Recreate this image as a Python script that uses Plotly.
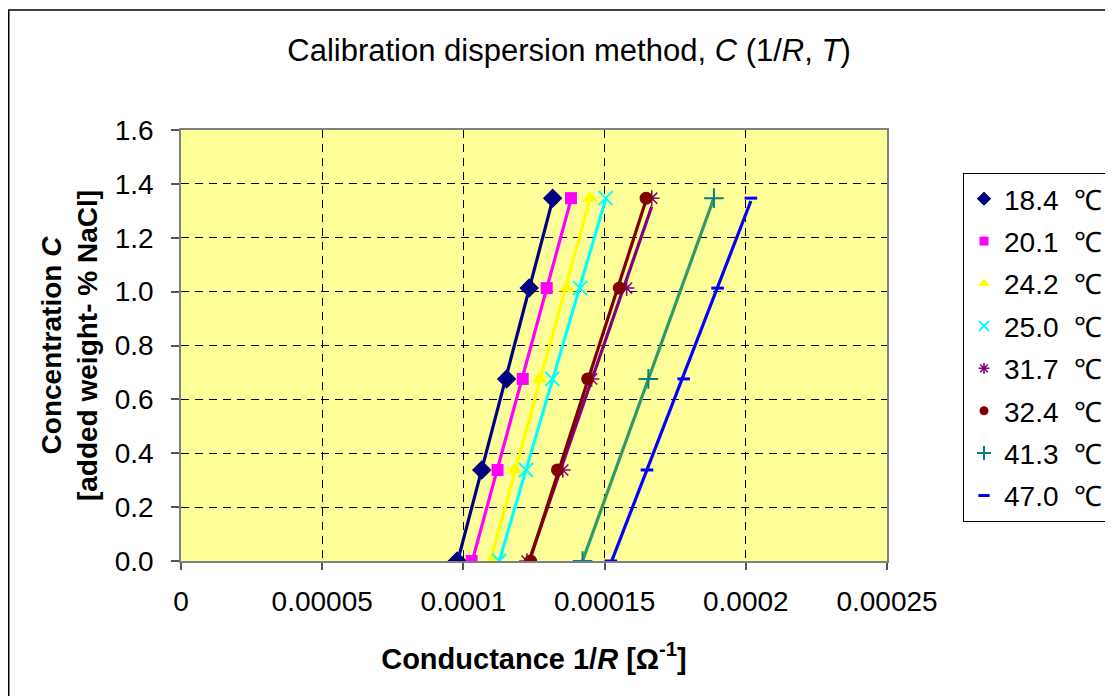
import numpy as np
import plotly.graph_objects as go

# ---- data ----
C_LEVELS = [0.0, 0.338, 0.676, 1.013, 1.347]          # concentration [wt-% NaCl]
C_LEVELS_413 = [0.0, 0.676, 1.347]                      # 41.3 °C has three points

X_184 = [0.978e-4, 1.065e-4, 1.153e-4, 1.233e-4, 1.316e-4]
X_201 = [1.029e-4, 1.121e-4, 1.210e-4, 1.295e-4, 1.381e-4]
X_242 = [1.100e-4, 1.179e-4, 1.269e-4, 1.366e-4, 1.448e-4]
X_250 = [1.127e-4, 1.222e-4, 1.315e-4, 1.413e-4, 1.504e-4]
X_317 = [1.225e-4, 1.352e-4, 1.454e-4, 1.578e-4, 1.667e-4]
X_324 = [1.238e-4, 1.333e-4, 1.440e-4, 1.552e-4, 1.647e-4]
X_413 = [1.422e-4, 1.655e-4, 1.887e-4]
X_470 = [1.522e-4, 1.650e-4, 1.780e-4, 1.900e-4, 2.018e-4]

SERIES_NAMES = ["18.4", "20.1", "24.2", "25.0", "31.7", "32.4", "41.3", "47.0"]

X_TICKVALS = [0, 0.00005, 0.0001, 0.00015, 0.0002, 0.00025]
X_TICKTEXT = ["0", "0.00005", "0.0001", "0.00015", "0.0002", "0.00025"]
Y_TICKVALS = [0.0, 0.2, 0.4, 0.6, 0.8, 1.0, 1.2, 1.4, 1.6]

# ---- styles ----
series = [
    (SERIES_NAMES[0], X_184, C_LEVELS, dict(symbol="diamond", size=15, color="#000080"), "#000080"),
    (SERIES_NAMES[1], X_201, C_LEVELS, dict(symbol="square", size=12, color="#FF00FF"), "#FF00FF"),
    (SERIES_NAMES[2], X_242, C_LEVELS, dict(symbol="triangle-up", size=14, color="#FFFF00"), "#FFFF00"),
    (SERIES_NAMES[3], X_250, C_LEVELS, dict(symbol="x-thin-open", size=14, color="#00FFFF",
                                            line=dict(width=2, color="#00FFFF")), "#00FFFF"),
    (SERIES_NAMES[4], X_317, C_LEVELS, dict(symbol="asterisk-open", size=13, color="#800080",
                                            line=dict(width=1.5, color="#800080")), "#800080"),
    (SERIES_NAMES[5], X_324, C_LEVELS, dict(symbol="circle", size=13, color="#800000"), "#800000"),
    (SERIES_NAMES[6], X_413, C_LEVELS_413, dict(symbol="cross-thin-open", size=14, color="#008080",
                                                line=dict(width=2, color="#008080")), "#339966"),
    (SERIES_NAMES[7], X_470, C_LEVELS, dict(symbol="line-ew-open", size=9, color="#0000FF",
                                            line=dict(width=3, color="#0000FF")), "#0000FF"),
]

FONT = "Liberation Sans, Arial, sans-serif"

# page body has an 8 px default margin; layout is expressed in reference pixels
OFF = 8
W, H = 1113 - OFF, 696 - OFF
PL, PR, PT, PB = 181 - OFF, 887 - OFF, 130 - OFF, 561 - OFF   # plot area in figure px
PW, PH = PR - PL, PB - PT

def px_x(x):  # reference px -> paper x
    return (x - OFF - PL) / PW

def px_y(y):  # reference px -> paper y
    return (PB - (y - OFF)) / PH

fig = go.Figure()

# linear trendlines (fit of C on 1/R, drawn over the data's x-range)
for name, xs, ys, mk, lc in series:
    a, b = np.polyfit(np.array(xs), np.array(ys), 1)
    x_ends = [min(xs), max(xs)]
    fig.add_trace(go.Scatter(
        x=x_ends, y=[a * x_ends[0] + b, a * x_ends[1] + b],
        mode="lines", line=dict(color=lc, width=3.2),
        showlegend=False, hoverinfo="skip"))

# data markers
for i, (name, xs, ys, mk, lc) in enumerate(series):
    fig.add_trace(go.Scatter(
        x=xs, y=ys, mode="markers", marker=mk, showlegend=False,
        legendgroup="g%d" % i, hoverinfo="x+y"))

# legend entries (smaller symbols, as in the reference legend)
for i, (name, xs, ys, mk, lc) in enumerate(series):
    lm = dict(mk)
    lm["size"] = max(8, int(mk["size"] * 0.75))
    fig.add_trace(go.Scatter(
        x=[None], y=[None], mode="markers", marker=lm,
        name=name + "\u00a0\u00a0℃\u00a0\u00a0", legendgroup="g%d" % i, showlegend=True))

grid = dict(showgrid=True, gridcolor="#000000", gridwidth=1.2, griddash="8px,6px")

fig.update_layout(
    width=W, height=H,
    margin=dict(l=PL, r=W - PR, t=PT, b=H - PB, autoexpand=False),
    paper_bgcolor="white", plot_bgcolor="#FFFF99",
    font=dict(family=FONT, size=28, color="black"),
    title=dict(text="Calibration dispersion method, <i>C</i> (1/<i>R</i>, <i>T</i>)",
               x=(569 - OFF) / W, xanchor="center", y=1 - (50 - OFF) / H, yanchor="middle",
               yref="container", font=dict(size=31, family=FONT)),
    xaxis=dict(range=[0, 0.00025], tickvals=X_TICKVALS, ticktext=X_TICKTEXT,
               ticks="outside", ticklen=7, tickcolor="#555555", tickwidth=1.5,
               showline=True, mirror=True, linecolor="#808080", linewidth=1.5,
               zeroline=False, ticklabelstandoff=8,
               tickfont=dict(size=28),
               title=dict(text="<b>Conductance 1/<i>R</i> [Ω<sup>-1</sup>]</b>",
                          standoff=32, font=dict(size=29)),
               **grid),
    yaxis=dict(range=[0, 1.6], tickvals=Y_TICKVALS, tickformat=".1f",
               ticks="outside", ticklen=8, tickcolor="#555555", tickwidth=1.5,
               showline=True, mirror=True, linecolor="#808080", linewidth=1.5,
               zeroline=False, ticklabelstandoff=12,
               tickfont=dict(size=28),
               title=dict(text="<b>Concentration <i>C</i></b><br><b>[added weight- % NaCl]</b>",
                          standoff=9, font=dict(size=28)),
               **grid),
    legend=dict(x=px_x(963), xanchor="left", y=px_y(173), yanchor="top",
                bordercolor="#000000", borderwidth=1, bgcolor="white",
                font=dict(size=28, family=FONT), traceorder="grouped", tracegroupgap=3,
                itemwidth=30),
    shapes=[dict(type="rect", xref="paper", yref="paper",
                 x0=px_x(OFF + 0.75), x1=2.0, y0=-1.0, y1=px_y(10),
                 line=dict(color="black", width=1.5), fillcolor="rgba(0,0,0,0)",
                 layer="below")],
)

fig.write_html("out.html")
